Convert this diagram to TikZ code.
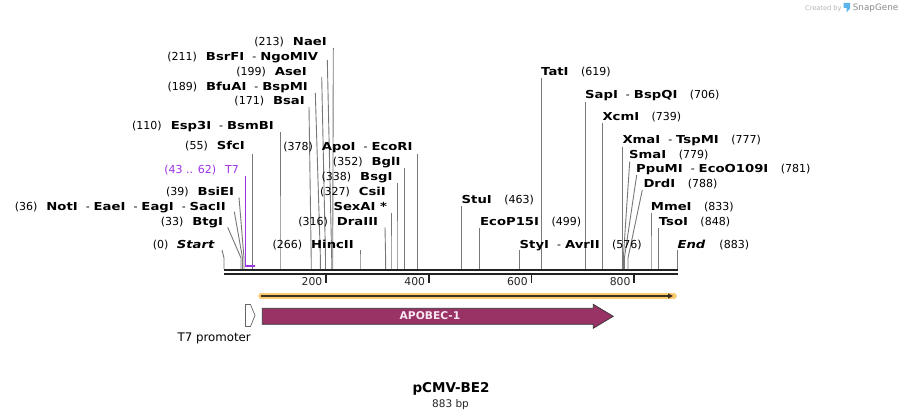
\documentclass[tikz,border=0pt]{standalone}
\usepackage{fontspec}
\setmainfont{DejaVu Sans}[BoldFeatures={FakeStretch=1.2},BoldItalicFeatures={FakeStretch=1.2}]
\newfontfamily\plainfam{DejaVu Sans}
\usetikzlibrary{arrows.meta}
\definecolor{siteg}{RGB}{120,120,120}
\definecolor{bbone}{RGB}{34,34,34}
\definecolor{tsev}{RGB}{155,50,230}
\definecolor{orfband}{RGB}{250,202,112}
\definecolor{orfline}{RGB}{60,48,30}
\definecolor{apob}{RGB}{153,51,102}
\definecolor{apobtxt}{RGB}{248,230,240}
\definecolor{logoblue}{RGB}{90,180,235}
\newcommand\lgap{\hspace{9pt}}
\newcommand\rgap{\hspace{12.5pt}}
\newcommand\ldash{\hspace{8pt}-\hspace{4pt}}
\newcommand\rsite[5]{%
  \coordinate (#1b) at (#2,269);
  \coordinate (#1k) at (#2,258);
  \coordinate (#1t) at (#3,#4);
  \draw[siteline] (#1b) -- (#1k) -- (#1t);}
\tikzset{
  lbl/.style={inner sep=0pt, font=\fontsize{11}{13}\selectfont, text=black},
  lleft/.style={lbl, anchor=mid east},
  lright/.style={lbl, anchor=mid west},
  siteline/.style={draw=siteg, line width=0.9pt},
  bbline/.style={draw=bbone, line width=2.3pt},
  tickline/.style={draw=bbone, line width=1.8pt},
  rnum/.style={inner sep=0pt, anchor=mid east, font=\fontsize{10.8}{12}\selectfont, text=black!85}
}
\begin{document}
\begin{tikzpicture}[x=1pt,y=-1pt]
\useasboundingbox (0,0) rectangle (902,419);
\fill[white] (0,0) rectangle (902,419);

% ---- site lines
\rsite{start}{224}{222}{250}{}
\rsite{btg}{241}{227.7}{227.3}{}
\rsite{not}{242.5}{234.3}{211.7}{}
\rsite{bsie}{244}{239}{197.3}{}
\rsite{sfc}{252.3}{252.3}{154}{}
\rsite{esp}{280}{280}{131.7}{}
\rsite{bsa}{311.2}{309}{107}{}
\rsite{bfu}{320.4}{315.3}{93}{}
\rsite{ase}{325.5}{321.7}{77}{}
\rsite{bsrf}{331.7}{327.3}{60}{}
\rsite{nae}{332.7}{333.3}{48}{}
\rsite{hinc}{360}{360}{250}{}
\rsite{dra}{385.6}{385}{227.3}{}
\rsite{sexa}{391}{391}{213.3}{}
\rsite{bsg}{397}{397}{183}{}
\rsite{bgl}{404.2}{404.2}{168.3}{}
\rsite{apo}{417.4}{417.4}{154}{}
\rsite{stu}{461.5}{461.5}{206}{}
\rsite{ecop}{479.6}{479.6}{228}{}
\rsite{sty}{519.2}{519.2}{250}{}
\rsite{tat}{541.5}{541.5}{78.3}{}
\rsite{sap}{585.7}{585.7}{101.7}{}
\rsite{xcm}{602.7}{602.7}{123.3}{}
\rsite{xma}{622.3}{622.3}{147.3}{}
\rsite{sma}{623.3}{629.7}{161.7}{}
\rsite{ppu}{624.4}{636.7}{175}{}
\rsite{drd}{628}{642.3}{190}{}
\rsite{mme}{651}{651}{213.3}{}
\rsite{tso}{658.8}{658.8}{228.3}{}
\rsite{end}{677.3}{677.3}{250}{}

% ---- left labels
\node[lleft] (Lstart) at (215,246) {(0)\hspace{8.5pt}\textbf{\textit{Start}}};
\node[lleft] (Lbtg) at (223.3,222.7) {(33)\lgap\textbf{BtgI}};
\node[lleft] (Lnot) at (226,207.7) {(36)\lgap\textbf{NotI}\ldash\textbf{EaeI}\ldash\textbf{EagI}\ldash\textbf{SacII}};
\node[lleft] (Lbsie) at (234.3,192.7) {(39)\lgap\textbf{BsiEI}};
\node[lleft, text=tsev] (Lt7) at (239,171) {(43 .. 62)\lgap T7};
\node[lleft] (Lsfc) at (245,146.5) {(55)\lgap\textbf{SfcI}};
\node[lleft] (Lesp) at (274,127) {(110)\lgap\textbf{Esp3I}\ldash\textbf{BsmBI}};
\node[lleft] (Lbsa) at (305,102) {(171)\lgap\textbf{BsaI}};
\node[lleft] (Lbfu) at (308,88) {(189)\lgap\textbf{BfuAI}\ldash\textbf{BspMI}};
\node[lleft] (Lase) at (307,73) {(199)\lgap\textbf{AseI}};
\node[lleft] (Lbsrf) at (318.3,58) {(211)\lgap\textbf{BsrFI}\ldash\textbf{NgoMIV}};
\node[lleft] (Lnae) at (327,43) {(213)\lgap\textbf{NaeI}};
\node[lleft] (Lhinc) at (354,246) {(266)\lgap\textbf{HincII}};
\node[lleft] (Ldra) at (378.3,223) {(316)\lgap\textbf{DraIII}};
\node[lleft] (Lsexa) at (387.3,208) {\textbf{SexAI *}};
\node[lleft] (Lcsi) at (386,193) {(327)\lgap\textbf{CsiI}};
\node[lleft] (Lbsg) at (392.7,178) {(338)\lgap\textbf{BsgI}};
\node[lleft] (Lbgl) at (400.7,163) {(352)\lgap\textbf{BglI}};
\node[lleft] (Lapo) at (412.7,148) {(378)\lgap\textbf{ApoI}\ldash\textbf{EcoRI}};

% ---- right labels
\node[lright] (Rstu) at (461.5,201) {\textbf{StuI}\rgap(463)};
\node[lright] (Recop) at (480,223) {\textbf{EcoP15I}\rgap(499)};
\node[lright] (Rsty) at (519.5,246) {\textbf{StyI}\ldash\textbf{AvrII}\rgap(576)};
\node[lright] (Rtat) at (541,73) {\textbf{TatI}\rgap(619)};
\node[lright] (Rsap) at (585,96) {\textbf{SapI}\ldash\textbf{BspQI}\rgap(706)};
\node[lright] (Rxcm) at (602.3,118) {\textbf{XcmI}\rgap(739)};
\node[lright] (Rxma) at (622.3,141) {\textbf{XmaI}\ldash\textbf{TspMI}\rgap(777)};
\node[lright] (Rsma) at (629,156) {\textbf{SmaI}\rgap(779)};
\node[lright] (Rppu) at (636,170) {\textbf{PpuMI}\ldash\textbf{EcoO109I}\rgap(781)};
\node[lright] (Rdrd) at (643.3,185) {\textbf{DrdI}\rgap(788)};
\node[lright] (Rmme) at (650.7,208) {\textbf{MmeI}\rgap(833)};
\node[lright] (Rtso) at (658.7,223) {\textbf{TsoI}\rgap(848)};
\node[lright] (Rend) at (677.3,246) {\textbf{\textit{End}}\hspace{14pt}(883)};

% ---- T7 feature (purple)
\coordinate (t7a) at (245.4,266);
\coordinate (t7b) at (255.1,266);
\coordinate (t7c) at (245.4,176);
\draw[tsev, line width=2pt] (t7a) -- (t7b);
\draw[tsev, line width=1pt] (t7a) -- (t7c);

% ---- backbone
\coordinate (bb1L) at (224,270.3); \coordinate (bb1R) at (677.7,270.3);
\coordinate (bb2L) at (224,273.9); \coordinate (bb2R) at (677.7,273.9);
\draw[bbline] (bb1L) -- (bb1R);
\draw[bbline] (bb2L) -- (bb2R);

% ---- ruler
\foreach \v/\xx in {200/326, 400/428.7, 600/531.4, 800/634.1}{
  \coordinate (tk\v a) at (\xx,275);
  \coordinate (tk\v b) at (\xx,283.5);
  \draw[tickline] (tk\v a) -- (tk\v b);
  \node[rnum] (tk\v n) at (\xx-3.5,283) {\v};
}

% ---- ORF arrow
\coordinate (orfL) at (261,296);
\coordinate (orfR) at (674,296);
\coordinate (orfR2) at (673,296);
\draw[orfband, line width=5.5pt, line cap=round] (orfL) -- (orfR);
\draw[orfline, line width=1.4pt, -{Triangle[length=5pt,width=5pt]}] (orfL) -- (orfR2);

% ---- APOBEC-1 feature
\draw[fill=apob, draw=black!80, line width=0.7pt]
  (262.3,308.3) -- (593.3,308.3) -- (593.3,304.3) -- (613.3,316.3) --
  (593.3,328.3) -- (593.3,324.3) -- (262.3,324.3) -- cycle;
\node[inner sep=0pt, anchor=mid, text=apobtxt, font=\plainfam\bfseries\fontsize{10.7}{13}\selectfont] (apoblbl) at (430,317) {APOBEC-1};

% ---- T7 promoter
\draw[draw=black!60, fill=white, line width=0.7pt]
  (245.5,304.5) -- (250.5,304.5) -- (255,315.5) -- (250.5,326.5) -- (245.5,326.5) -- cycle;
\node[lleft, font=\fontsize{11.8}{13}\selectfont] (t7plbl) at (251,338.5) {T7 promoter};

% ---- title
\node[inner sep=0pt, anchor=mid, font=\plainfam\bfseries\fontsize{13.5}{15}\selectfont] (title) at (451,390) {pCMV-BE2};
\node[inner sep=0pt, anchor=mid, font=\fontsize{10.5}{12}\selectfont, text=black!85] (bplen) at (450.5,404.3) {883 bp};

% ---- SnapGene credit
\node[inner sep=0pt, anchor=mid west, font=\fontsize{6.6}{8}\selectfont, text=black!30] (cby) at (805,7.5) {Created by};
\fill[logoblue] (843.5,3) -- (850,3) -- (850,8.5) -- (846.5,12.5) -- (846.5,8) -- (843.5,8) -- cycle;
\node[inner sep=0pt, anchor=mid west, font=\fontsize{8.8}{10}\selectfont, text=black!45] (sng) at (852.7,7.5) {SnapGene};
\end{tikzpicture}
\end{document}
